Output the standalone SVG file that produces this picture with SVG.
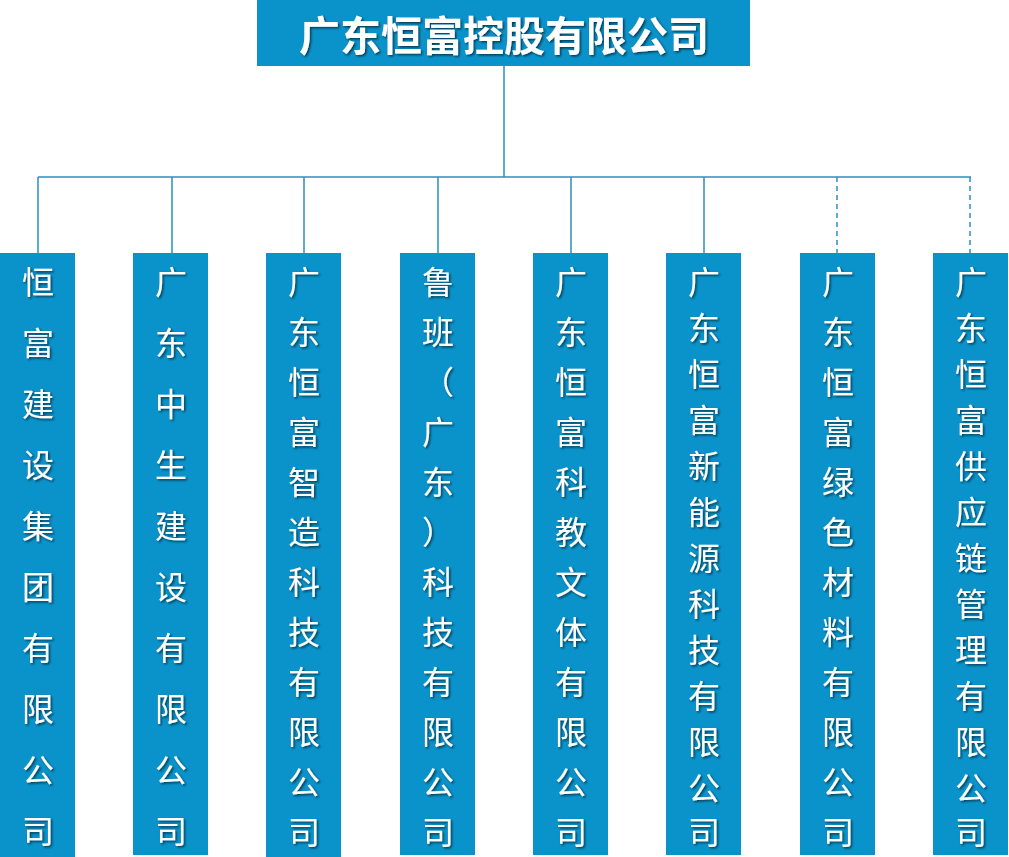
<svg xmlns="http://www.w3.org/2000/svg" width="1009" height="857" viewBox="0 0 1009 857">
<defs>
<style>
.box{fill:#0a93cb}
.ln{stroke:#2b8fbd;stroke-width:1.5;fill:none}
.dash{stroke-dasharray:5 4}
.t{font-family:"Noto Sans CJK SC",sans-serif;font-size:32px;fill:#fff;text-anchor:middle;dominant-baseline:central;filter:url(#sh)}
.title{font-family:"Noto Sans CJK SC",sans-serif;font-size:41px;font-weight:bold;fill:#fff;text-anchor:middle;dominant-baseline:central;filter:url(#sh)}
</style>
<filter id="sh" x="-20%" y="-20%" width="150%" height="150%"><feDropShadow dx="1.5" dy="1.5" stdDeviation="1" flood-color="#000" flood-opacity="0.6"/></filter>
</defs>
<rect width="1009" height="857" fill="#fff"/>
<g id="connectors">
<path class="ln" d="M504 66V177M38 177H971M38 177V253M172 177V253M304 177V253M438 177V253M571 177V253M704 177V253"/>
<path class="ln dash" d="M837 177V253M970 177V253"/>
</g>
<g id="root"><rect class="box" x="257" y="0" width="493" height="66"/><text class="title" x="504" y="33">广东恒富控股有限公司</text></g>
<g id="n1"><rect class="box" x="0" y="253" width="75" height="604"/><text class="t" x="38"><tspan x="38" y="280">恒</tspan><tspan x="38" y="341">富</tspan><tspan x="38" y="402">建</tspan><tspan x="38" y="463">设</tspan><tspan x="38" y="524">集</tspan><tspan x="38" y="585">团</tspan><tspan x="38" y="646">有</tspan><tspan x="38" y="707">限</tspan><tspan x="38" y="768">公</tspan><tspan x="38" y="829">司</tspan></text></g>
<g id="n2"><rect class="box" x="133" y="253" width="75" height="602"/><text class="t"><tspan x="171" y="280">广</tspan><tspan x="171" y="341">东</tspan><tspan x="171" y="402">中</tspan><tspan x="171" y="463">生</tspan><tspan x="171" y="524">建</tspan><tspan x="171" y="585">设</tspan><tspan x="171" y="646">有</tspan><tspan x="171" y="707">限</tspan><tspan x="171" y="768">公</tspan><tspan x="171" y="829">司</tspan></text></g>
<g id="n3"><rect class="box" x="266" y="253" width="75" height="604"/><text class="t"><tspan x="304" y="280">广</tspan><tspan x="304" y="330">东</tspan><tspan x="304" y="380">恒</tspan><tspan x="304" y="430">富</tspan><tspan x="304" y="480">智</tspan><tspan x="304" y="530">造</tspan><tspan x="304" y="580">科</tspan><tspan x="304" y="630">技</tspan><tspan x="304" y="680">有</tspan><tspan x="304" y="730">限</tspan><tspan x="304" y="780">公</tspan><tspan x="304" y="830">司</tspan></text></g>
<g id="n4"><rect class="box" x="400" y="253" width="75" height="602"/><text class="t"><tspan x="438" y="280">鲁</tspan><tspan x="438" y="330">班</tspan><tspan x="438" y="380">（</tspan><tspan x="438" y="430">广</tspan><tspan x="438" y="480">东</tspan><tspan x="438" y="530">）</tspan><tspan x="438" y="580">科</tspan><tspan x="438" y="630">技</tspan><tspan x="438" y="680">有</tspan><tspan x="438" y="730">限</tspan><tspan x="438" y="780">公</tspan><tspan x="438" y="830">司</tspan></text></g>
<g id="n5"><rect class="box" x="533" y="253" width="75" height="602"/><text class="t"><tspan x="571" y="280">广</tspan><tspan x="571" y="330">东</tspan><tspan x="571" y="380">恒</tspan><tspan x="571" y="430">富</tspan><tspan x="571" y="480">科</tspan><tspan x="571" y="530">教</tspan><tspan x="571" y="580">文</tspan><tspan x="571" y="630">体</tspan><tspan x="571" y="680">有</tspan><tspan x="571" y="730">限</tspan><tspan x="571" y="780">公</tspan><tspan x="571" y="830">司</tspan></text></g>
<g id="n6"><rect class="box" x="666" y="253" width="75" height="602"/><text class="t"><tspan x="704" y="280">广</tspan><tspan x="704" y="326">东</tspan><tspan x="704" y="372">恒</tspan><tspan x="704" y="418">富</tspan><tspan x="704" y="464">新</tspan><tspan x="704" y="510">能</tspan><tspan x="704" y="556">源</tspan><tspan x="704" y="602">科</tspan><tspan x="704" y="648">技</tspan><tspan x="704" y="694">有</tspan><tspan x="704" y="740">限</tspan><tspan x="704" y="786">公</tspan><tspan x="704" y="830">司</tspan></text></g>
<g id="n7"><rect class="box" x="800" y="253" width="75" height="602"/><text class="t"><tspan x="838" y="280">广</tspan><tspan x="838" y="330">东</tspan><tspan x="838" y="380">恒</tspan><tspan x="838" y="430">富</tspan><tspan x="838" y="480">绿</tspan><tspan x="838" y="530">色</tspan><tspan x="838" y="580">材</tspan><tspan x="838" y="630">料</tspan><tspan x="838" y="680">有</tspan><tspan x="838" y="730">限</tspan><tspan x="838" y="780">公</tspan><tspan x="838" y="830">司</tspan></text></g>
<g id="n8"><rect class="box" x="933" y="253" width="75" height="602"/><text class="t"><tspan x="971" y="280">广</tspan><tspan x="971" y="326">东</tspan><tspan x="971" y="372">恒</tspan><tspan x="971" y="418">富</tspan><tspan x="971" y="464">供</tspan><tspan x="971" y="510">应</tspan><tspan x="971" y="556">链</tspan><tspan x="971" y="602">管</tspan><tspan x="971" y="648">理</tspan><tspan x="971" y="694">有</tspan><tspan x="971" y="740">限</tspan><tspan x="971" y="786">公</tspan><tspan x="971" y="830">司</tspan></text></g>
</svg>
